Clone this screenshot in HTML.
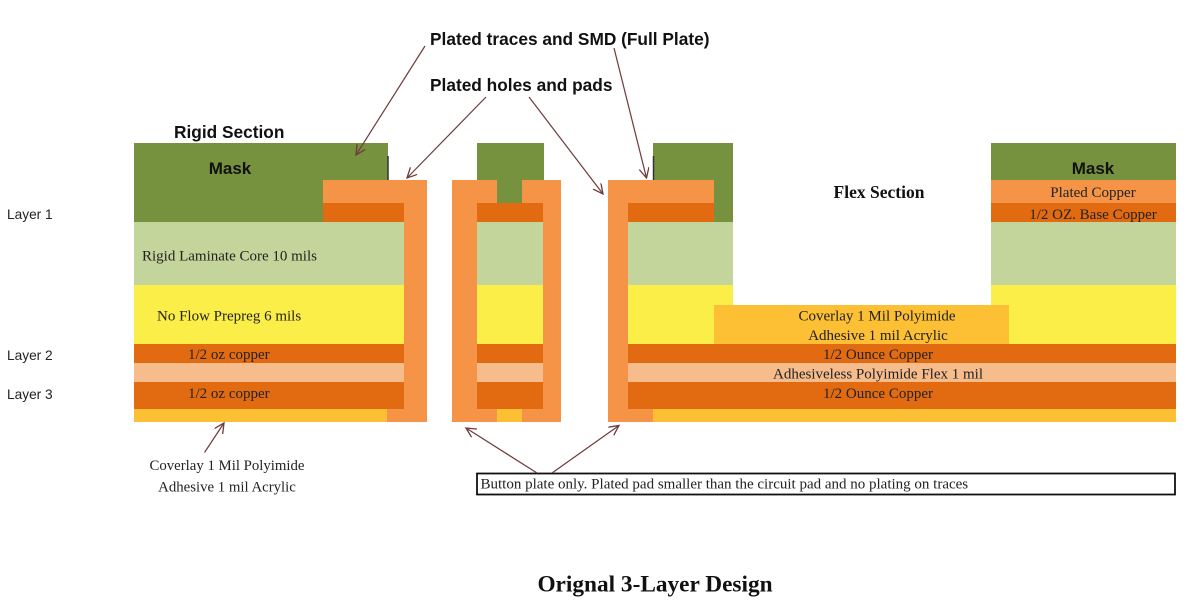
<!DOCTYPE html>
<html><head><meta charset="utf-8"><style>
html,body{margin:0;padding:0;background:#fff;}
svg{display:block;}
.sb{font-family:"Liberation Sans",Arial,sans-serif;font-weight:bold;fill:#111;}
.s{font-family:"Liberation Sans",Arial,sans-serif;fill:#222;}
.t{font-family:"Liberation Serif","Times New Roman",serif;fill:#222;}
.tb{font-family:"Liberation Serif","Times New Roman",serif;font-weight:bold;fill:#111;}
</style></head><body>
<svg width="1200" height="612" viewBox="0 0 1200 612" xmlns="http://www.w3.org/2000/svg">
<defs>
<marker id="ah" markerWidth="12" markerHeight="12" refX="10" refY="5" orient="auto" markerUnits="userSpaceOnUse">
<path d="M0,0 L10,5 L0,10" fill="none" stroke="#6e3b3b" stroke-width="1.3"/>
</marker>
</defs>
<rect x="0" y="0" width="1200" height="612" fill="#fff"/>

<!-- LEFT RIGID SECTION -->
<rect x="134" y="143" width="254" height="79" fill="#77923e"/>
<rect x="134" y="222" width="270" height="63" fill="#c3d59b"/>
<rect x="134" y="285" width="270" height="59" fill="#fcee48"/>
<rect x="134" y="344" width="270" height="19" fill="#e26b12"/>
<rect x="134" y="363" width="270" height="19" fill="#f6bc8c"/>
<rect x="134" y="382" width="270" height="27" fill="#e26b12"/>
<rect x="134" y="409" width="254" height="13" fill="#fdbf33"/>
<rect x="323" y="180" width="104" height="23" fill="#f59446"/>
<rect x="323" y="203" width="81" height="19" fill="#e26b12"/>
<rect x="404" y="180" width="23" height="242" fill="#f59446"/>
<rect x="387" y="409" width="40" height="13" fill="#f59446"/>
<line x1="388" y1="156" x2="388" y2="180" stroke="#333" stroke-width="1.5"/>

<!-- MIDDLE VIA -->
<rect x="477" y="143" width="67" height="37" fill="#77923e"/>
<rect x="497" y="180" width="25" height="23" fill="#77923e"/>
<rect x="477" y="203" width="66" height="19" fill="#e26b12"/>
<rect x="477" y="222" width="66" height="63" fill="#c3d59b"/>
<rect x="477" y="285" width="66" height="59" fill="#fcee48"/>
<rect x="477" y="344" width="66" height="19" fill="#e26b12"/>
<rect x="477" y="363" width="66" height="19" fill="#f6bc8c"/>
<rect x="477" y="382" width="66" height="27" fill="#e26b12"/>
<rect x="452" y="180" width="45" height="23" fill="#f59446"/>
<rect x="522" y="180" width="39" height="23" fill="#f59446"/>
<rect x="452" y="180" width="25" height="242" fill="#f59446"/>
<rect x="543" y="180" width="18" height="242" fill="#f59446"/>
<rect x="452" y="409" width="45" height="13" fill="#f59446"/>
<rect x="497" y="409" width="25" height="13" fill="#fdbf33"/>
<rect x="522" y="409" width="39" height="13" fill="#f59446"/>

<!-- RIGHT VIA + FLEX -->
<rect x="653" y="143" width="80" height="79" fill="#77923e"/>
<rect x="628" y="222" width="105" height="63" fill="#c3d59b"/>
<rect x="628" y="285" width="105" height="59" fill="#fcee48"/>
<rect x="608" y="180" width="106" height="23" fill="#f59446"/>
<rect x="628" y="203" width="86" height="19" fill="#e26b12"/>
<rect x="628" y="344" width="548" height="19" fill="#e26b12"/>
<rect x="628" y="363" width="548" height="19" fill="#f6bc8c"/>
<rect x="628" y="382" width="548" height="27" fill="#e26b12"/>
<rect x="653" y="409" width="523" height="13" fill="#fdbf33"/>
<rect x="608" y="180" width="20" height="242" fill="#f59446"/>
<rect x="608" y="409" width="45" height="13" fill="#f59446"/>
<line x1="653.5" y1="156" x2="653.5" y2="180" stroke="#333" stroke-width="1.5"/>

<!-- RIGHT RIGID -->
<rect x="991" y="143" width="185" height="37" fill="#77923e"/>
<rect x="991" y="180" width="185" height="23" fill="#f59446"/>
<rect x="991" y="203" width="185" height="19" fill="#e26b12"/>
<rect x="991" y="222" width="185" height="63" fill="#c3d59b"/>
<rect x="991" y="285" width="185" height="59" fill="#fcee48"/>
<rect x="714" y="305" width="295" height="39" fill="#fdbf33"/>

<!-- TEXT -->
<text class="sb" x="430" y="45" font-size="17.3">Plated traces and SMD (Full Plate)</text>
<text class="sb" x="430" y="91" font-size="17.3">Plated holes and pads</text>
<text class="sb" x="174" y="138" font-size="17.3">Rigid Section</text>
<text class="sb" x="230" y="174" font-size="17" text-anchor="middle">Mask</text>
<text class="sb" x="1093" y="174" font-size="17" text-anchor="middle">Mask</text>
<text class="tb" x="879" y="198" font-size="17.5" text-anchor="middle">Flex Section</text>

<text class="s" x="7" y="219" font-size="13.7">Layer 1</text>
<text class="s" x="7" y="360" font-size="13.7">Layer 2</text>
<text class="s" x="7" y="399" font-size="13.7">Layer 3</text>

<text class="t" x="142" y="260.5" font-size="15">Rigid Laminate Core 10 mils</text>
<text class="t" x="157" y="320.5" font-size="15">No Flow Prepreg 6 mils</text>
<text class="t" x="188" y="359" font-size="15">1/2 oz copper</text>
<text class="t" x="188" y="398" font-size="15">1/2 oz copper</text>

<text class="t" x="1093" y="197" font-size="15" text-anchor="middle">Plated Copper</text>
<text class="t" x="1093" y="219" font-size="15" text-anchor="middle">1/2 OZ. Base Copper</text>
<text class="t" x="877" y="320.5" font-size="15" text-anchor="middle">Coverlay 1 Mil Polyimide</text>
<text class="t" x="878" y="340" font-size="15" text-anchor="middle">Adhesive 1 mil Acrylic</text>
<text class="t" x="878" y="359" font-size="15" text-anchor="middle">1/2 Ounce Copper</text>
<text class="t" x="878" y="378.5" font-size="15" text-anchor="middle">Adhesiveless Polyimide Flex 1 mil</text>
<text class="t" x="878" y="398" font-size="15" text-anchor="middle">1/2 Ounce Copper</text>

<text class="t" x="227" y="470" font-size="14.8" text-anchor="middle">Coverlay 1 Mil Polyimide</text>
<text class="t" x="227" y="491.5" font-size="14.8" text-anchor="middle">Adhesive 1 mil Acrylic</text>

<rect x="477" y="473.5" width="698" height="21" fill="#fff" stroke="#111" stroke-width="1.8"/>
<text class="t" x="480.5" y="488.5" font-size="15" fill="#111">Button plate only. Plated pad smaller than the circuit pad and no plating on traces</text>

<text class="tb" x="655" y="591.5" font-size="23.3" text-anchor="middle">Orignal 3-Layer Design</text>

<!-- ARROWS -->
<g stroke="#6e3b3b" stroke-width="1.2" fill="none" marker-end="url(#ah)">
<line x1="425" y1="46" x2="356" y2="155"/>
<line x1="486" y1="97" x2="407" y2="178"/>
<line x1="529" y1="97" x2="603" y2="194"/>
<line x1="614" y1="48" x2="646.5" y2="178"/>
<line x1="204.5" y1="452.5" x2="224" y2="423"/>
<line x1="537" y1="473" x2="466" y2="428"/>
<line x1="552" y1="473" x2="619" y2="425.5"/>
</g>
</svg>
</body></html>
